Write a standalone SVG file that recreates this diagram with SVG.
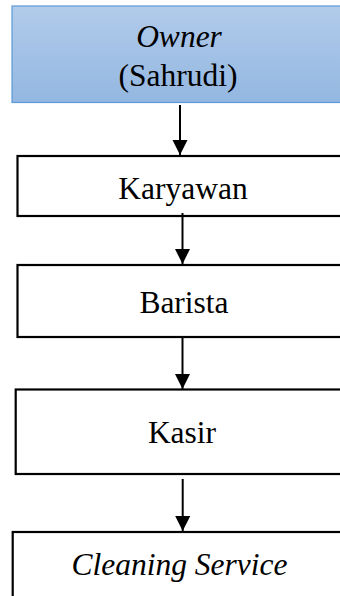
<svg xmlns="http://www.w3.org/2000/svg" width="340" height="596" viewBox="0 0 340 596">
  <defs>
    <linearGradient id="ownerFill" x1="0" y1="0" x2="0" y2="1">
      <stop offset="0" stop-color="#b2cbea"/>
      <stop offset="1" stop-color="#93b7e1"/>
    </linearGradient>
    <marker id="arrow" markerUnits="userSpaceOnUse" markerWidth="15" markerHeight="16" refX="15" refY="7.5" orient="auto">
      <path d="M0,0 L15,7.5 L0,15 Z" fill="#000"/>
    </marker>
  </defs>
  <style>
    .box { fill: #fff; stroke: #000; stroke-width: 2.2; }
    .owner { fill: url(#ownerFill); stroke: #5b9bd5; stroke-width: 1.2; }
    .label { font-family: "Liberation Serif", "Times New Roman", serif; font-size: 31.5px; fill: #000; text-anchor: middle; }
    .it { font-style: italic; }
    .link { stroke: #000; stroke-width: 2; fill: none; marker-end: url(#arrow); }
  </style>

  <rect width="340" height="596" fill="#fff"/>

  <!-- boxes run past the right edge of the canvas -->
  <g id="owner">
    <rect class="owner" x="12" y="6" width="340" height="96.5"/>
    <text class="label it" x="179" y="47">Owner</text>
    <text class="label" x="178" y="86">(Sahrudi)</text>
  </g>

  <g id="karyawan">
    <rect class="box" x="17.5" y="156" width="340" height="60"/>
    <text class="label" x="183" y="199">Karyawan</text>
  </g>

  <g id="barista">
    <rect class="box" x="17.5" y="265" width="340" height="72"/>
    <text class="label" x="184" y="313">Barista</text>
  </g>

  <g id="kasir">
    <rect class="box" x="15.7" y="389.5" width="340" height="84.5"/>
    <text class="label" x="182" y="443">Kasir</text>
  </g>

  <g id="cleaning-service">
    <rect class="box" x="12.7" y="532" width="340" height="80"/>
    <text class="label it" x="179.5" y="575">Cleaning Service</text>
  </g>

  <g id="connectors">
    <line class="link" x1="180" y1="105" x2="180" y2="155"/>
    <line class="link" x1="182.5" y1="213" x2="182.5" y2="264"/>
    <line class="link" x1="182.5" y1="337" x2="182.5" y2="389"/>
    <line class="link" x1="182.7" y1="479" x2="182.7" y2="531"/>
  </g>
</svg>
